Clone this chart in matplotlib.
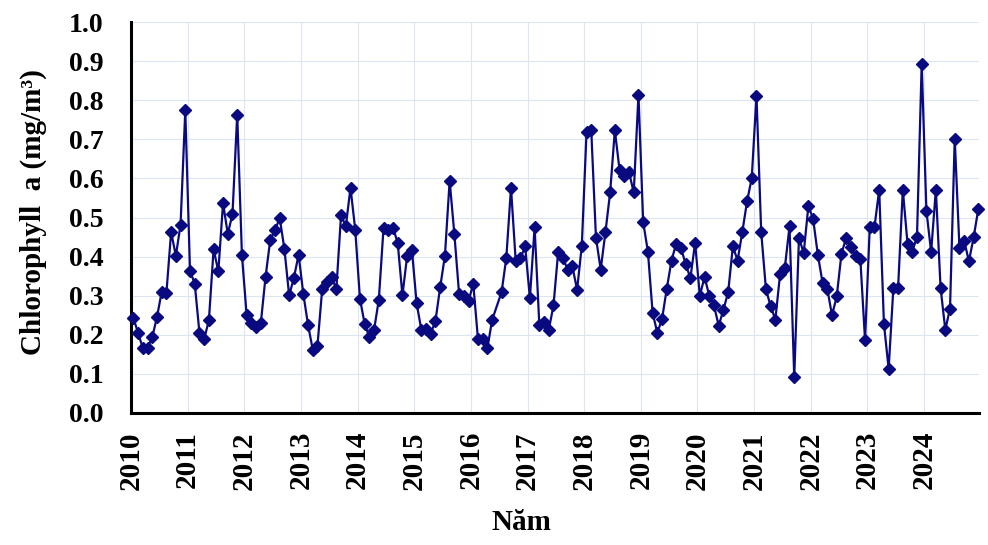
import numpy as np
import matplotlib
matplotlib.use("Agg")
import matplotlib.pyplot as plt

# Monthly chlorophyll-a (mg/m3), Jan 2010 .. Dec 2024 (June 2016 missing)
years = list(range(2010, 2025))
chl = [
    # 2010
    0.243, 0.205, 0.166, 0.166, 0.194, 0.245, 0.310, 0.307, 0.463, 0.402, 0.482, 0.774,
    # 2011
    0.363, 0.331, 0.205, 0.189, 0.237, 0.419, 0.362, 0.537, 0.458, 0.509, 0.763, 0.404,
    # 2012
    0.250, 0.230, 0.220, 0.230, 0.348, 0.443, 0.467, 0.499, 0.419, 0.301, 0.345, 0.405,
    # 2013
    0.305, 0.226, 0.162, 0.172, 0.317, 0.334, 0.347, 0.317, 0.507, 0.477, 0.576, 0.469,
    # 2014
    0.292, 0.228, 0.194, 0.213, 0.290, 0.474, 0.469, 0.474, 0.435, 0.301, 0.402, 0.418,
    # 2015
    0.281, 0.213, 0.216, 0.203, 0.236, 0.322, 0.402, 0.594, 0.458, 0.305, 0.298, 0.286,
    # 2016
    0.331, 0.189, 0.188, 0.166, 0.238, np.nan, 0.309, 0.396, 0.576, 0.388, 0.396, 0.426,
    # 2017
    0.294, 0.475, 0.225, 0.232, 0.213, 0.275, 0.413, 0.396, 0.367, 0.375, 0.315, 0.428,
    # 2018
    0.719, 0.723, 0.448, 0.367, 0.462, 0.564, 0.723, 0.621, 0.605, 0.616, 0.564, 0.814,
    # 2019
    0.488, 0.413, 0.256, 0.205, 0.241, 0.318, 0.390, 0.433, 0.422, 0.381, 0.345, 0.435,
    # 2020
    0.300, 0.348, 0.300, 0.275, 0.223, 0.264, 0.309, 0.426, 0.390, 0.463, 0.541, 0.601,
    # 2021
    0.812, 0.463, 0.317, 0.273, 0.239, 0.355, 0.371, 0.477, 0.091, 0.448, 0.409, 0.530,
    # 2022
    0.496, 0.405, 0.333, 0.318, 0.250, 0.298, 0.407, 0.448, 0.425, 0.401, 0.394, 0.186,
    # 2023
    0.476, 0.476, 0.571, 0.228, 0.113, 0.320, 0.320, 0.571, 0.433, 0.413, 0.450, 0.893,
    # 2024
    0.517, 0.412, 0.571, 0.320, 0.213, 0.267, 0.701, 0.422, 0.441, 0.388, 0.449, 0.522,
]
y_ticks = [0.0, 0.1, 0.2, 0.3, 0.4, 0.5, 0.6, 0.7, 0.8, 0.9, 1.0]

# mid-month positions in decimal years
t = np.array([y + (m + 0.5) / 12 for y in years for m in range(12)])
v = np.array(chl, dtype=float)
ok = ~np.isnan(v)

plt.rcParams['font.family'] = ['Liberation Serif', 'DejaVu Serif']
plt.rcParams['font.weight'] = 'bold'

fig = plt.figure(figsize=(9.88, 5.45), dpi=100)
ax = fig.add_axes([131/988, 1 - 413/545, (979-131)/988, (413-22)/545])

ax.plot(t[ok], v[ok], color='#0a0a80', lw=1.6, marker='D', ms=6.5,
        markerfacecolor='#0a0a80', markeredgecolor='#0a0a80', clip_on=False, zorder=3)

ax.set_xlim(2010, 2024.97)
ax.set_ylim(0, 1.0)
ax.set_xticks(years)
ax.set_xticklabels([str(y) for y in years], rotation=90, fontsize=21, fontweight='bold')
ax.set_yticks(y_ticks)
ax.set_yticklabels([f"{y:.1f}" for y in y_ticks], fontsize=20, fontweight='bold')
ax.tick_params(length=0)
ax.tick_params(axis='y', pad=20)
ax.tick_params(axis='x', pad=13)

ax.grid(True, color='#dce6f2', lw=0.8, zorder=0)
ax.set_axisbelow(True)

for s in ['top', 'right']:
    ax.spines[s].set_visible(False)
for s in ['left', 'bottom']:
    ax.spines[s].set_linewidth(2.2)
    ax.spines[s].set_color('black')

ax.set_ylabel("Chlorophyll  a (mg/m³)", fontsize=21, fontweight='bold')
ax.yaxis.set_label_coords(-0.099, 0.515)
ax.set_xlabel("Năm", fontsize=21, fontweight='bold')
ax.xaxis.set_label_coords(0.46, -0.245)

fig.savefig("out.png", dpi=100)
